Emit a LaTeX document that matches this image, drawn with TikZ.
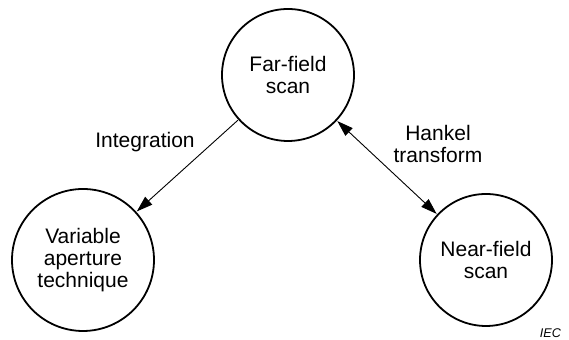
\documentclass[tikz,border=0pt]{standalone}
\usepackage{fontspec}
\setmainfont{Liberation Sans}
\usetikzlibrary{arrows.meta}

\begin{document}
\begin{tikzpicture}[x=0.5pt,y=0.5pt,
		scan/.style={circle,draw,line width=0.9pt,inner sep=0pt,align=center,
			font=\fontsize{10.5pt}{11pt}\selectfont},
		link/.style={line width=0.45pt,shorten <=0.3pt,shorten >=0.3pt},
		tip/.tip={Triangle[length=8pt,width=5.2pt]},
		caption/.style={align=center,font=\fontsize{10.5pt}{11pt}\selectfont}]
		\useasboundingbox (0,0) rectangle (569,340);
		\node[scan,minimum size=66pt] (farfield) at (288,265) {Far-field\\scan};
		\node[scan,minimum size=71pt] (variable) at (83,80) {Variable\\aperture\\technique};
		\node[scan,minimum size=66pt] (nearfield) at (486,80) {Near-field\\scan};
		\draw[link,-tip] (farfield) -- (variable);
		\draw[link,tip-tip] (farfield) -- (nearfield);
		\node[caption] (integration) at (145,198) {Integration};
		\node[caption] (hankel) at (438,196) {Hankel\\transform};
		\node[anchor=base east,font=\fontsize{6.3pt}{7pt}\selectfont\itshape] (iec) at (568,2) {IEC};
	\end{tikzpicture}
\end{document}
